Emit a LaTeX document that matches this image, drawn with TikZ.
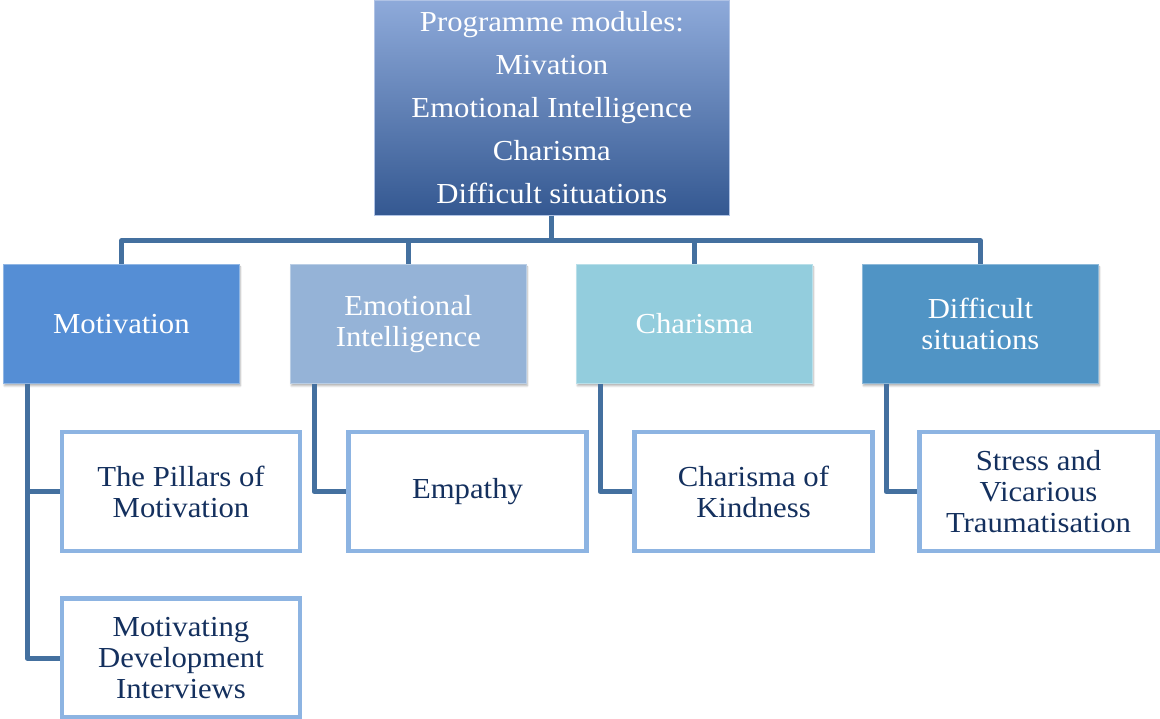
\documentclass[tikz,border=0pt]{standalone}
\usepackage{fontspec}
\setmainfont{Liberation Serif}[FakeStretch=1.06]
\usetikzlibrary{shadows.blur}

\definecolor{linkc}{HTML}{44709F}
\definecolor{topup}{HTML}{8EAADA}
\definecolor{topdown}{HTML}{345891}
\definecolor{motc}{HTML}{558ED5}
\definecolor{emoc}{HTML}{95B3D7}
\definecolor{chac}{HTML}{93CDDD}
\definecolor{difc}{HTML}{5094C5}
\definecolor{leafedge}{HTML}{8DB4E2}
\definecolor{leaftext}{HTML}{14305E}

\tikzset{
  txt/.style={font=\fontsize{29}{31}\selectfont, align=center, inner sep=0pt},
  headbox/.style={txt, text=white, minimum width=236pt, minimum height=119pt,
    anchor=north west, draw=#1!65!white, line width=0.8pt, fill=#1,
    blur shadow={shadow xshift=1pt, shadow yshift=-2.5pt, shadow opacity=30, shadow blur steps=6}},
  leafbox/.style={txt, text=leaftext, draw=leafedge, line width=4.5pt, fill=white,
    minimum width=238pt, minimum height=119pt},
  link/.style={draw=linkc, line width=5pt, line join=round}
}

\begin{document}
\begin{tikzpicture}[x=1pt,y=-1pt]
  \useasboundingbox (0,0) rectangle (1160,719);

  % root
  \node[txt, text=white, font=\fontsize{29}{43}\selectfont,
        minimum width=355pt, minimum height=215pt, anchor=north west,
        top color=topup, bottom color=topdown, draw=topup!70!white, line width=0.8pt]
        (root) at (374,0)
        {Programme modules:\\Mivation\\Emotional Intelligence\\Charisma\\Difficult situations};

  % module heads
  \node[headbox=motc] (m1) at (3,264)   {Motivation};
  \node[headbox=emoc] (m2) at (290,264) {Emotional\\Intelligence};
  \node[headbox=chac] (m3) at (576,264) {Charisma};
  \node[headbox=difc] (m4) at (862,264) {Difficult\\situations};

  % topics
  \node[leafbox] (t1) at (181,491.5)   {The Pillars of\\Motivation};
  \node[leafbox] (t2) at (181,658)     {Motivating\\Development\\Interviews};
  \node[leafbox] (t3) at (467.5,491.5) {Empathy};
  \node[leafbox] (t4) at (753.5,491.5) {Charisma of\\Kindness};
  \node[leafbox] (t5) at (1038.5,491.5) {Stress and\\Vicarious\\Traumatisation};

  % connectors from the root, through a bus line 25pt below it
  \foreach \m in {m1,m2,m3,m4}
    \path[link] (root.south) -- ++(0,25) -| (\m.north);

  % connectors to the topics
  \path[link] ([xshift=24pt]m1.south west) |- (t1.west);
  \path[link] ([xshift=24pt]m1.south west) |- (t2.west);
  \path[link] ([xshift=24pt]m2.south west) |- (t3.west);
  \path[link] ([xshift=24pt]m3.south west) |- (t4.west);
  \path[link] ([xshift=24pt]m4.south west) |- (t5.west);
\end{tikzpicture}
\end{document}
